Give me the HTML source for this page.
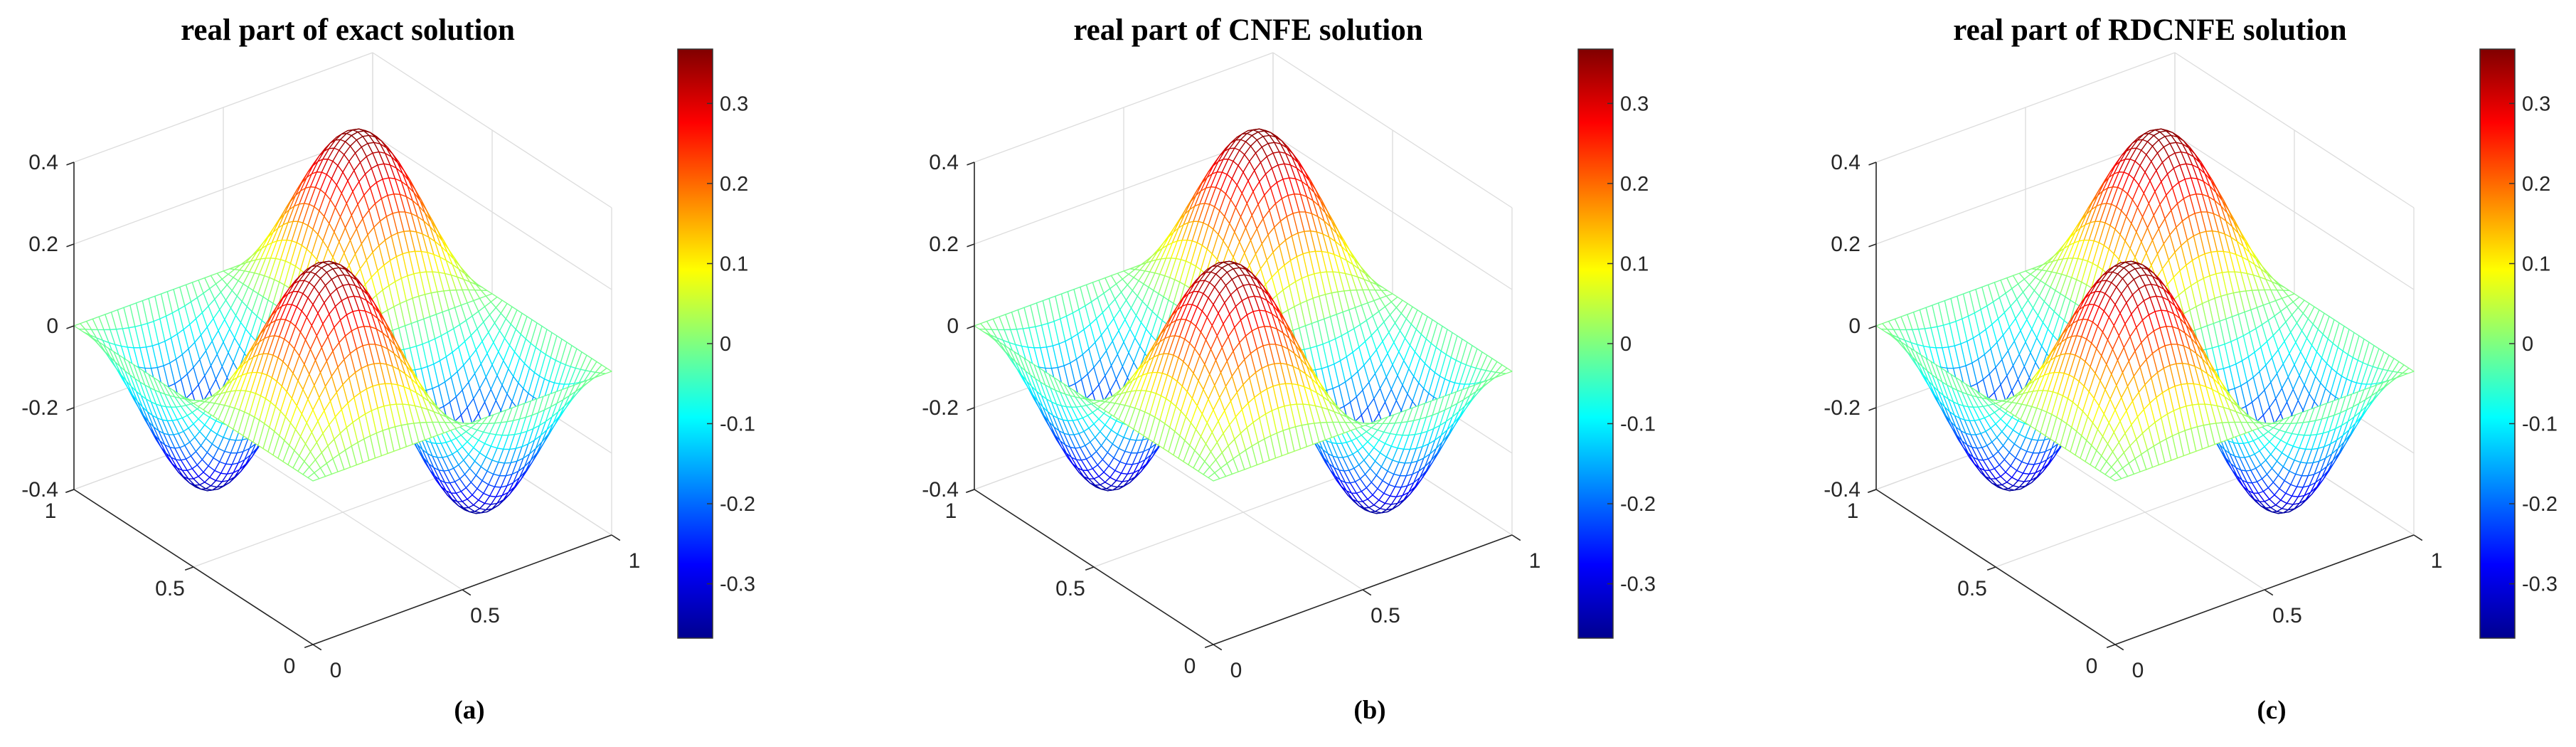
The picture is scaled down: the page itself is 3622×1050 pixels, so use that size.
<!DOCTYPE html>
<html><head><meta charset="utf-8">
<style>
html,body{margin:0;padding:0;background:#fff;}
svg{display:block;}
text{font-family:"Liberation Sans",sans-serif;fill:#262626;}
.ttl{font-family:"Liberation Serif",serif;font-weight:bold;fill:#000;}
</style></head>
<body>
<svg id="fig" width="3622" height="1050" viewBox="0 0 3622 1050" xmlns="http://www.w3.org/2000/svg">
<defs>
<linearGradient id="jet" x1="0" y1="1" x2="0" y2="0">
<stop offset="0" stop-color="#00008f"/>
<stop offset="0.125" stop-color="#0000ff"/>
<stop offset="0.375" stop-color="#00ffff"/>
<stop offset="0.625" stop-color="#ffff00"/>
<stop offset="0.875" stop-color="#ff0000"/>
<stop offset="1" stop-color="#800000"/>
</linearGradient>
</defs>
</svg>
<script>
const panelTitles = ["real part of exact solution","real part of CNFE solution","real part of RDCNFE solution"];
const panelLabels = ["(a)","(b)","(c)"];
const panelOffsets = [0,1266,2534];
const amplitudes = [0.3679,0.3679,0.3679];
const gridN = 48;
const zTicks = [-0.4,-0.2,0,0.2,0.4];
const xyTicks = [0,0.5,1];
const cbarTicks = [-0.3,-0.2,-0.1,0,0.1,0.2,0.3];
const cmin = -0.3679, cmax = 0.3679;

const NS="http://www.w3.org/2000/svg";
const svg=document.getElementById('fig');
function mk(tag,attrs,parent){const e=document.createElementNS(NS,tag);for(const k in attrs)e.setAttribute(k,attrs[k]);(parent||svg).appendChild(e);return e;}
function jet(t){t=Math.max(0,Math.min(1,t));const c=v=>Math.round(255*Math.max(0,Math.min(1,v)));
 return `rgb(${c(1.5-Math.abs(4*t-3))},${c(1.5-Math.abs(4*t-2))},${c(1.5-Math.abs(4*t-1))})`;}

panelTitles.forEach((title,p)=>{
 const ox=panelOffsets[p], amp=amplitudes[p];
 const g=mk('g',{});
 
 
 const zs=v=>575*(v+0.4);
 const P=(x,y,z)=>[440+ox+x*420-y*336, 906-x*154-y*218-zs(z)];
 const line=(a,b,col,w,name)=>{const l=mk('line',{x1:a[0].toFixed(1),y1:a[1].toFixed(1),x2:b[0].toFixed(1),y2:b[1].toFixed(1),stroke:col,'stroke-width':w},g);
  
  return l;};
 const gc='#dcdcdc';
 zTicks.forEach(z=>{line(P(0,1,z),P(1,1,z),gc,1.3,'grid-z');line(P(1,1,z),P(1,0,z),gc,1.3,'grid-z');});
 xyTicks.forEach(t=>{
  line(P(t,1,-0.4),P(t,1,0.4),gc,1.3,'grid-wall');
  line(P(1,t,-0.4),P(1,t,0.4),gc,1.3,'grid-wall');
  line(P(t,0,-0.4),P(t,1,-0.4),gc,1.3,'grid-floor');
  line(P(0,t,-0.4),P(1,t,-0.4),gc,1.3,'grid-floor');
 });
 const u=(x,y)=>amp*Math.sin(2*Math.PI*x)*Math.sin(2*Math.PI*y);
 const quads=[];
 for(let i=0;i<gridN;i++)for(let j=0;j<gridN;j++)quads.push([i,j]);
 quads.sort((a,b)=>(b[0]+b[1])-(a[0]+a[1]));
 const sg=mk('g',{},g);
 
 
 quads.forEach(([i,j])=>{
  const x0=i/gridN,x1=(i+1)/gridN,y0=j/gridN,y1=(j+1)/gridN;
  const z00=u(x0,y0),z10=u(x1,y0),z11=u(x1,y1),z01=u(x0,y1);
  const pts=[P(x0,y0,z00),P(x1,y0,z10),P(x1,y1,z11),P(x0,y1,z01)];
  const zm=(z00+z10+z11+z01)/4;
  const pg=mk('polygon',{points:pts.map(q=>q[0].toFixed(1)+','+q[1].toFixed(1)).join(' '),fill:'#fff',stroke:jet((zm-cmin)/(cmax-cmin)),'stroke-width':1.3,'stroke-linejoin':'round'},sg);
  
  
 });
 const ac='#262626';
 line(P(0,1,-0.4),P(0,1,0.4),ac,1.6,'z-axis');
 line(P(0,0,-0.4),P(0,1,-0.4),ac,1.6,'y-axis');
 line(P(0,0,-0.4),P(1,0,-0.4),ac,1.6,'x-axis');
 zTicks.forEach(z=>{
  const a=P(0,1,z),b=P(-0.025,1,z);line(a,b,ac,1.6,'z-tick');
  const t=mk('text',{x:a[0]-22,y:a[1]+10,'font-size':30,'text-anchor':'end'},g);t.textContent=(z===0?'0':String(z));
  
  
 });
 xyTicks.forEach(v=>{
  const a=P(0,v,-0.4),b=P(-0.028,v,-0.4);line(a,b,ac,1.6,'y-tick');
  const t=mk('text',{x:a[0]-33,y:a[1]+40,'font-size':30,'text-anchor':'middle'},g);t.textContent=String(v);
  
  
  const c=P(v,0,-0.4),d=P(v,-0.035,-0.4);line(c,d,ac,1.6,'x-tick');
  const t2=mk('text',{x:c[0]+32,y:c[1]+46,'font-size':30,'text-anchor':'middle'},g);t2.textContent=String(v);
  
  
 });
 const cbx=953+ox, cbt=69, cbb=897, cbw=49;
 const cb=mk('rect',{x:cbx,y:cbt,width:cbw,height:cbb-cbt,fill:'url(#jet)',stroke:'#333','stroke-width':1.5},g);
 
 
 const cy=v=>cbb-(v-cmin)/(cmax-cmin)*(cbb-cbt);
 cbarTicks.forEach(v=>{
  line([cbx+cbw-8,cy(v)],[cbx+cbw,cy(v)],'#333',1.5,'colorbar-tick');
  const t=mk('text',{x:cbx+cbw+10,y:cy(v)+10,'font-size':29},g);t.textContent=(v===0?'0':String(v));
  
  
 });
 const tt=mk('text',{x:489+ox,y:56,'font-size':43,'text-anchor':'middle',class:'ttl'},g);tt.textContent=title;
 
 
 const lb=mk('text',{x:660+ox,y:1010,'font-size':37,'text-anchor':'middle',class:'ttl'},g);lb.textContent=panelLabels[p];
 
 
});
</script>
</body></html>
